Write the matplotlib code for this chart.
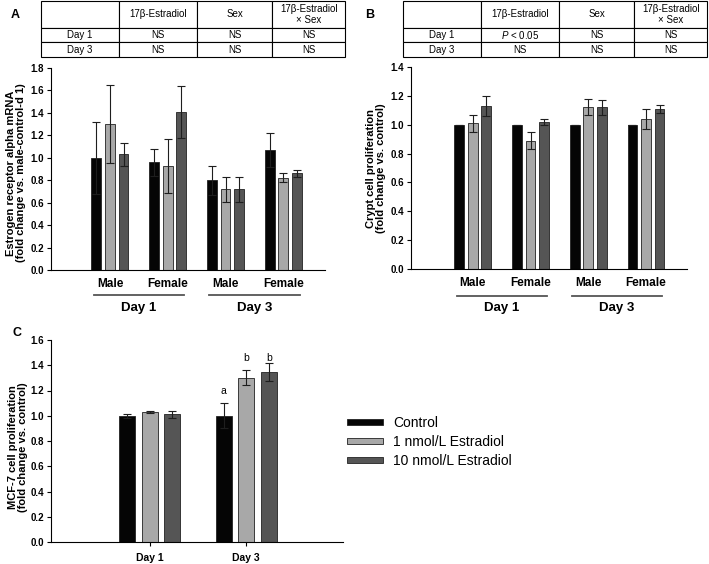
import numpy as np
import matplotlib
matplotlib.use("Agg")
import matplotlib.pyplot as plt
from matplotlib.patches import Patch
from matplotlib.transforms import blended_transform_factory

plt.rcParams['font.family'] = ['Liberation Sans', 'DejaVu Sans']
plt.rcParams['mathtext.fontset'] = 'custom'
plt.rcParams['mathtext.it'] = 'Liberation Sans:italic'

# ---- 数据 ----
series_names = ["Control", "1 nmol/L Estradiol", "10 nmol/L Estradiol"]
bar_colors = ["#050505", "#a8a8a8", "#555555"]

groups_ab = ["Male", "Female", "Male", "Female"]
days_ab = ["Day 1", "Day 3"]

# A: 雌激素受体 mRNA
a_mean = [[1.00, 0.96, 0.80, 1.07],
          [1.30, 0.93, 0.72, 0.82],
          [1.03, 1.41, 0.72, 0.86]]
a_err = [[0.32, 0.12, 0.13, 0.15],
         [0.35, 0.24, 0.11, 0.04],
         [0.10, 0.23, 0.11, 0.03]]

# B: 隐窝细胞增殖
b_mean = [[1.00, 1.00, 1.00, 1.00],
          [1.01, 0.89, 1.12, 1.04],
          [1.13, 1.02, 1.12, 1.11]]
b_err = [[0.0, 0.0, 0.0, 0.0],
         [0.06, 0.06, 0.055, 0.07],
         [0.07, 0.02, 0.05, 0.03]]

# C: MCF-7 细胞增殖
c_days = ["Day 1", "Day 3"]
c_mean = [[1.00, 1.00],
          [1.03, 1.30],
          [1.01, 1.345]]
c_err = [[0.015, 0.10],
         [0.01, 0.06],
         [0.025, 0.07]]
c_letters = [["", "a"], ["", "b"], ["", "b"]]
c_letter_y = [[0, 1.20], [0, 1.46], [0, 1.46]]

table_cols = ["", "17β-Estradiol", "Sex", "17β-Estradiol\n× Sex"]
table_a = [["Day 1", "NS", "NS", "NS"],
           ["Day 3", "NS", "NS", "NS"]]
table_b = [["Day 1", "$\\it{P}$ < 0.05", "NS", "NS"],
           ["Day 3", "NS", "NS", "NS"]]

W, H = 709, 564


def px_rect(x0, y0, x1, y1):
    # 像素坐标 -> figure 坐标
    return [x0 / W, 1 - y1 / H, (x1 - x0) / W, (y1 - y0) / H]


def draw_table(fig, rect, rows):
    ax = fig.add_axes(rect)
    ax.axis("off")
    tb = ax.table(cellText=[table_cols] + rows, cellLoc="center",
                  bbox=[0, 0, 1, 1], colWidths=[0.257, 0.257, 0.247, 0.239])
    tb.auto_set_font_size(False)
    tb.set_fontsize(7)
    for (r, c), cell in tb.get_celld().items():
        cell.set_linewidth(0.8)
        cell.set_height(0.48 if r == 0 else 0.26)
        if r == 0:
            cell.get_text().set_linespacing(1.2)
    return ax


def style_axis(ax, ymax):
    for s in ["top", "right"]:
        ax.spines[s].set_visible(False)
    ax.spines["left"].set_linewidth(0.8)
    ax.spines["bottom"].set_linewidth(0.8)
    ax.set_ylim(0, ymax)
    ax.set_yticks(np.arange(0, ymax + 0.01, 0.2))
    ax.set_yticklabels(["%.1f" % v for v in np.arange(0, ymax + 0.01, 0.2)],
                       fontweight="bold", fontsize=7)
    ax.tick_params(axis="y", length=3, width=0.8, pad=2)


def draw_bars(ax, means, errs, width, step):
    x = np.arange(len(means[0]))
    for i in range(3):
        ax.bar(x + (i - 1) * step, means[i], width, color=bar_colors[i],
               edgecolor="#222222", linewidth=0.6, zorder=2)
        ax.errorbar(x + (i - 1) * step, means[i], yerr=errs[i], fmt="none",
                    ecolor="#1e1e1e", elinewidth=0.8, capsize=3, capthick=0.8, zorder=3)
    return x


def group_labels(ax, x, line_y, day_y):
    ax.set_xticks(x)
    ax.set_xticklabels(groups_ab, fontweight="bold", fontsize=8.5)
    ax.tick_params(axis="x", length=0, pad=6)
    tr = blended_transform_factory(ax.transData, ax.transAxes)
    for d in range(2):
        x0 = x[2 * d] - 0.28
        x1 = x[2 * d + 1] + 0.28
        ax.plot([x0, x1], [line_y, line_y], color="#555555", lw=1.3,
                transform=tr, clip_on=False)
        ax.text((x0 + x1) / 2, day_y, days_ab[d], transform=tr, ha="center",
                va="center", fontweight="bold", fontsize=9.5)


fig = plt.figure(figsize=(W / 100, H / 100), dpi=100)

# ---- A ----
draw_table(fig, px_rect(41, 1, 345, 57), table_a)
axA = fig.add_axes(px_rect(51, 68, 325, 270))
style_axis(axA, 1.8)
xa = draw_bars(axA, a_mean, a_err, 0.17, 0.235)
axA.set_xlim(-1.02, 3.72)
group_labels(axA, xa, -0.124, -0.19)
axA.set_ylabel("Estrogen receptor alpha mRNA\n(fold change vs. male-control-d 1)",
               fontweight="bold", fontsize=8, linespacing=1.0)
axA.yaxis.set_label_coords(-0.09, 0.48)

# ---- B ----
draw_table(fig, px_rect(403, 1, 707, 57), table_b)
axB = fig.add_axes(px_rect(411, 67, 687, 269))
style_axis(axB, 1.4)
xb = draw_bars(axB, b_mean, b_err, 0.17, 0.235)
axB.set_xlim(-1.07, 3.71)
group_labels(axB, xb, -0.134, -0.195)
axB.set_ylabel("Crypt cell proliferation\n(fold change vs. control)",
               fontweight="bold", fontsize=8, linespacing=1.0)
axB.yaxis.set_label_coords(-0.09, 0.5)

# ---- C ----
axC = fig.add_axes(px_rect(51, 340, 343, 542))
style_axis(axC, 1.6)
xc = draw_bars(axC, c_mean, c_err, 0.166, 0.233)
axC.set_xlim(-1.02, 2.0)
axC.set_xticks(xc)
axC.set_xticklabels(c_days, fontweight="bold", fontsize=7.5)
axC.tick_params(axis="x", length=3, width=0.8, pad=5)
for i in range(3):
    for j in range(2):
        if c_letters[i][j]:
            axC.text(xc[j] + (i - 1) * 0.233, c_letter_y[i][j], c_letters[i][j],
                     ha="center", va="center", fontsize=7.5)
axC.set_ylabel("MCF-7 cell proliferation\n(fold change vs. control)",
               fontweight="bold", fontsize=8, linespacing=1.0)
axC.yaxis.set_label_coords(-0.08, 0.47)

# ---- 图例 ----
handles = [Patch(facecolor=bar_colors[i], edgecolor="#222222", linewidth=0.6)
           for i in range(3)]
fig.legend(handles, series_names, loc="center left",
           bbox_to_anchor=(347 / W, 1 - 442 / H), frameon=False, fontsize=10,
           handlelength=2.6, handleheight=0.35, handletextpad=0.7,
           labelspacing=0.35, borderpad=0, borderaxespad=0)

# ---- 面板标签 ----
for lab, (px, py) in zip("ABC", [(15, 15), (370, 15), (17, 333)]):
    fig.text(px / W, 1 - py / H, lab, fontweight="bold", fontsize=9,
             ha="center", va="center")

fig.savefig("out.png", dpi=100)
